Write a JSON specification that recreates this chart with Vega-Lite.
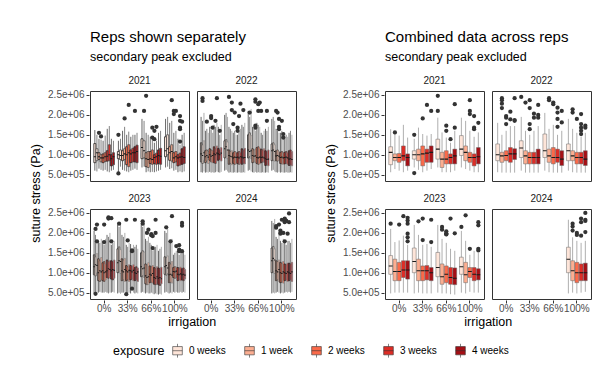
{
"$schema":"https://vega.github.io/schema/vega-lite/v6.json",
"padding":{"left":30,"top":30,"right":4,"bottom":4},
"spacing":28,
"config":{
 "font":"Liberation Sans",
 "view":{"stroke":"#333333","strokeWidth":1},
 "axis":{"domain":false,"grid":false,"tickColor":"#333333","tickSize":3,"labelColor":"#4D4D4D","labelFontSize":10,"labelOverlap":false,"titleFontSize":12.5,"titleFontWeight":"normal","titleColor":"#000000","labelPadding":2},
 "axisY":{"labelOverlap":false,"labelSeparation":0},
 "axisQuantitative":{"labelOverlap":false},
 "header":{"labelFontSize":10,"labelColor":"#1A1A1A","labelPadding":5},
 "title":{"fontSize":15,"fontWeight":"normal","anchor":"start","frame":"group","subtitleFontSize":12.5,"subtitleColor":"#000000","subtitlePadding":6,"offset":12},
 "legend":{"orient":"bottom","direction":"horizontal","titleOrient":"left","titleFontSize":12.5,"titleFontWeight":"normal","titleColor":"#000000","labelFontSize":10,"labelColor":"#000000","symbolType":"M-0.7,-0.6H0.7V0.6H-0.7Z M-0.7,0H0.7 M0,-0.6V-1 M0,0.6V1","symbolSize":190,"symbolStrokeColor":"#333333","symbolStrokeWidth":0.6,"columnPadding":16,"offset":14,"layout":{"bottom":{"anchor":"middle"}}}
},
"datasets":{
"L":[
{"y":2021,"i":"0%","e":"0 weeks","g":"0a","lo":6.0e5,"q1":8.0e5,"md":9.5e5,"q3":1.28e6,"hi":1.62e6},
{"y":2021,"i":"0%","e":"0 weeks","g":"0b","lo":5.8e5,"q1":8.5e5,"md":1.05e6,"q3":1.15e6,"hi":1.5e6},
{"y":2021,"i":"0%","e":"1 week","g":"1a","lo":6.5e5,"q1":8.8e5,"md":9.5e5,"q3":1.05e6,"hi":1.4e6},
{"y":2021,"i":"0%","e":"1 week","g":"1b","lo":6.2e5,"q1":8.2e5,"md":9.2e5,"q3":1.0e6,"hi":1.38e6},
{"y":2021,"i":"0%","e":"2 weeks","g":"2a","lo":6.0e5,"q1":8.0e5,"md":9.2e5,"q3":1.02e6,"hi":1.35e6},
{"y":2021,"i":"0%","e":"2 weeks","g":"2b","lo":6.2e5,"q1":8.3e5,"md":9.5e5,"q3":1.05e6,"hi":1.48e6},
{"y":2021,"i":"0%","e":"3 weeks","g":"3a","lo":5.8e5,"q1":8.4e5,"md":9.6e5,"q3":1.1e6,"hi":1.65e6},
{"y":2021,"i":"0%","e":"3 weeks","g":"3b","lo":5.6e5,"q1":8.5e5,"md":1.0e6,"q3":1.25e6,"hi":1.72e6},
{"y":2021,"i":"0%","e":"4 weeks","g":"4a","lo":6.0e5,"q1":7.2e5,"md":9.0e5,"q3":1.0e6,"hi":1.4e6},
{"y":2021,"i":"0%","e":"4 weeks","g":"4b","lo":6.2e5,"q1":7.5e5,"md":9.5e5,"q3":1.05e6,"hi":1.35e6},
{"y":2021,"i":"0%","e":"1 week","g":"1a","v":1.55e6},
{"y":2021,"i":"0%","e":"1 week","g":"1b","v":1.46e6},
{"y":2021,"i":"33%","e":"0 weeks","g":"0a","lo":5.6e5,"q1":9.0e5,"md":1.0e6,"q3":1.08e6,"hi":1.35e6},
{"y":2021,"i":"33%","e":"0 weeks","g":"0b","lo":7.0e5,"q1":8.8e5,"md":9.8e5,"q3":1.12e6,"hi":1.4e6},
{"y":2021,"i":"33%","e":"1 week","g":"1a","lo":6.2e5,"q1":8.5e5,"md":9.8e5,"q3":1.1e6,"hi":1.6e6},
{"y":2021,"i":"33%","e":"1 week","g":"1b","lo":6.0e5,"q1":8.8e5,"md":1.02e6,"q3":1.15e6,"hi":1.7e6},
{"y":2021,"i":"33%","e":"2 weeks","g":"2a","lo":5.8e5,"q1":7.5e5,"md":1.0e6,"q3":1.2e6,"hi":1.5e6},
{"y":2021,"i":"33%","e":"2 weeks","g":"2b","lo":5.6e5,"q1":7.0e5,"md":1.05e6,"q3":1.25e6,"hi":1.58e6},
{"y":2021,"i":"33%","e":"3 weeks","g":"3a","lo":6.0e5,"q1":8.0e5,"md":1.02e6,"q3":1.12e6,"hi":1.45e6},
{"y":2021,"i":"33%","e":"3 weeks","g":"3b","lo":6.2e5,"q1":8.2e5,"md":1.05e6,"q3":1.16e6,"hi":1.5e6},
{"y":2021,"i":"33%","e":"4 weeks","g":"4a","lo":6.5e5,"q1":8.2e5,"md":1.05e6,"q3":1.2e6,"hi":1.5e6},
{"y":2021,"i":"33%","e":"4 weeks","g":"4b","lo":6.2e5,"q1":8.0e5,"md":1.08e6,"q3":1.24e6,"hi":1.55e6},
{"y":2021,"i":"33%","e":"0 weeks","g":"0a","v":1.5e6},
{"y":2021,"i":"33%","e":"0 weeks","g":"0a","v":5.3e5},
{"y":2021,"i":"33%","e":"1 week","g":"1b","v":1.91e6},
{"y":2021,"i":"33%","e":"2 weeks","g":"2b","v":2.25e6},
{"y":2021,"i":"33%","e":"4 weeks","g":"4a","v":2.1e6},
{"y":2021,"i":"66%","e":"0 weeks","g":"0a","lo":6.8e5,"q1":9.0e5,"md":1.18e6,"q3":1.4e6,"hi":1.9e6},
{"y":2021,"i":"66%","e":"0 weeks","g":"0b","lo":7.0e5,"q1":9.2e5,"md":1.1e6,"q3":1.35e6,"hi":1.85e6},
{"y":2021,"i":"66%","e":"1 week","g":"1a","lo":5.6e5,"q1":7.0e5,"md":9.0e5,"q3":1.05e6,"hi":1.55e6},
{"y":2021,"i":"66%","e":"1 week","g":"1b","lo":5.8e5,"q1":6.8e5,"md":8.8e5,"q3":1.08e6,"hi":1.5e6},
{"y":2021,"i":"66%","e":"2 weeks","g":"2a","lo":5.6e5,"q1":7.8e5,"md":9.0e5,"q3":1.08e6,"hi":1.45e6},
{"y":2021,"i":"66%","e":"2 weeks","g":"2b","lo":5.7e5,"q1":7.6e5,"md":8.8e5,"q3":1.12e6,"hi":1.4e6},
{"y":2021,"i":"66%","e":"3 weeks","g":"3a","lo":5.6e5,"q1":7.8e5,"md":9.3e5,"q3":1.0e6,"hi":1.3e6},
{"y":2021,"i":"66%","e":"3 weeks","g":"3b","lo":5.8e5,"q1":7.6e5,"md":9.5e5,"q3":1.04e6,"hi":1.35e6},
{"y":2021,"i":"66%","e":"4 weeks","g":"4a","lo":6.0e5,"q1":7.8e5,"md":9.8e5,"q3":1.12e6,"hi":1.55e6},
{"y":2021,"i":"66%","e":"4 weeks","g":"4b","lo":6.2e5,"q1":7.6e5,"md":9.6e5,"q3":1.16e6,"hi":1.6e6},
{"y":2021,"i":"66%","e":"0 weeks","g":"0b","v":2.1e6},
{"y":2021,"i":"66%","e":"1 week","g":"1a","v":2.48e6},
{"y":2021,"i":"66%","e":"2 weeks","g":"2b","v":1.68e6},
{"y":2021,"i":"66%","e":"2 weeks","g":"2b","v":1.43e6},
{"y":2021,"i":"66%","e":"3 weeks","g":"3a","v":1.6e6},
{"y":2021,"i":"66%","e":"3 weeks","g":"3a","v":1.39e6},
{"y":2021,"i":"66%","e":"3 weeks","g":"3b","v":1.7e6},
{"y":2021,"i":"100%","e":"0 weeks","g":"0a","lo":6.8e5,"q1":9.5e5,"md":1.1e6,"q3":1.45e6,"hi":1.9e6},
{"y":2021,"i":"100%","e":"0 weeks","g":"0b","lo":7.0e5,"q1":1.0e6,"md":1.15e6,"q3":1.5e6,"hi":1.95e6},
{"y":2021,"i":"100%","e":"1 week","g":"1a","lo":6.4e5,"q1":8.6e5,"md":1.05e6,"q3":1.2e6,"hi":1.8e6},
{"y":2021,"i":"100%","e":"1 week","g":"1b","lo":6.6e5,"q1":8.4e5,"md":1.08e6,"q3":1.25e6,"hi":1.85e6},
{"y":2021,"i":"100%","e":"2 weeks","g":"2a","lo":6.0e5,"q1":8.0e5,"md":9.2e5,"q3":1.05e6,"hi":1.55e6},
{"y":2021,"i":"100%","e":"2 weeks","g":"2b","lo":6.2e5,"q1":8.2e5,"md":9.5e5,"q3":1.08e6,"hi":1.6e6},
{"y":2021,"i":"100%","e":"3 weeks","g":"3a","lo":5.6e5,"q1":7.2e5,"md":9.2e5,"q3":1.0e6,"hi":1.4e6},
{"y":2021,"i":"100%","e":"3 weeks","g":"3b","lo":5.8e5,"q1":7.4e5,"md":9.4e5,"q3":1.04e6,"hi":1.25e6},
{"y":2021,"i":"100%","e":"4 weeks","g":"4a","lo":5.6e5,"q1":7.6e5,"md":9.5e5,"q3":1.15e6,"hi":1.5e6},
{"y":2021,"i":"100%","e":"4 weeks","g":"4b","lo":5.8e5,"q1":7.8e5,"md":9.3e5,"q3":1.2e6,"hi":1.55e6},
{"y":2021,"i":"100%","e":"1 week","g":"1b","v":2.37e6},
{"y":2021,"i":"100%","e":"2 weeks","g":"2a","v":2.02e6},
{"y":2021,"i":"100%","e":"2 weeks","g":"2a","v":2.1e6},
{"y":2021,"i":"100%","e":"2 weeks","g":"2b","v":2.1e6},
{"y":2021,"i":"100%","e":"3 weeks","g":"3b","v":1.97e6},
{"y":2021,"i":"100%","e":"3 weeks","g":"3b","v":1.85e6},
{"y":2021,"i":"100%","e":"3 weeks","g":"3b","v":1.68e6},
{"y":2021,"i":"100%","e":"3 weeks","g":"3b","v":1.64e6},
{"y":2021,"i":"100%","e":"3 weeks","g":"3b","v":1.33e6},
{"y":2021,"i":"100%","e":"4 weeks","g":"4a","v":1.83e6},

{"y":2022,"i":"0%","e":"0 weeks","g":"0a","lo":5.6e5,"q1":8.2e5,"md":1.02e6,"q3":1.3e6,"hi":1.95e6},
{"y":2022,"i":"0%","e":"0 weeks","g":"0b","lo":5.5e5,"q1":7.8e5,"md":9.8e5,"q3":1.25e6,"hi":1.85e6},
{"y":2022,"i":"0%","e":"0 weeks","g":"0c","lo":5.8e5,"q1":8.6e5,"md":1.05e6,"q3":1.35e6,"hi":2.05e6},
{"y":2022,"i":"0%","e":"1 week","g":"1a","lo":5.5e5,"q1":8.0e5,"md":9.5e5,"q3":1.1e6,"hi":1.6e6},
{"y":2022,"i":"0%","e":"1 week","g":"1b","lo":5.6e5,"q1":8.4e5,"md":9.8e5,"q3":1.12e6,"hi":1.65e6},
{"y":2022,"i":"0%","e":"1 week","g":"1c","lo":5.5e5,"q1":7.8e5,"md":9.4e5,"q3":1.08e6,"hi":1.55e6},
{"y":2022,"i":"0%","e":"2 weeks","g":"2a","lo":5.7e5,"q1":8.6e5,"md":1.0e6,"q3":1.15e6,"hi":1.7e6},
{"y":2022,"i":"0%","e":"2 weeks","g":"2b","lo":5.5e5,"q1":8.2e5,"md":9.6e5,"q3":1.12e6,"hi":1.62e6},
{"y":2022,"i":"0%","e":"2 weeks","g":"2c","lo":5.6e5,"q1":8.0e5,"md":9.8e5,"q3":1.1e6,"hi":1.55e6},
{"y":2022,"i":"0%","e":"3 weeks","g":"3a","lo":5.5e5,"q1":8.0e5,"md":1.02e6,"q3":1.2e6,"hi":1.75e6},
{"y":2022,"i":"0%","e":"3 weeks","g":"3b","lo":5.6e5,"q1":7.8e5,"md":1.0e6,"q3":1.15e6,"hi":1.7e6},
{"y":2022,"i":"0%","e":"3 weeks","g":"3c","lo":5.8e5,"q1":8.4e5,"md":1.04e6,"q3":1.22e6,"hi":1.8e6},
{"y":2022,"i":"0%","e":"4 weeks","g":"4a","lo":5.6e5,"q1":8.6e5,"md":1.02e6,"q3":1.16e6,"hi":1.7e6},
{"y":2022,"i":"0%","e":"4 weeks","g":"4b","lo":5.5e5,"q1":8.8e5,"md":1.0e6,"q3":1.12e6,"hi":1.5e6},
{"y":2022,"i":"0%","e":"4 weeks","g":"4c","lo":5.7e5,"q1":8.4e5,"md":1.04e6,"q3":1.18e6,"hi":1.75e6},
{"y":2022,"i":"0%","e":"0 weeks","g":"0b","v":2.42e6},
{"y":2022,"i":"0%","e":"0 weeks","g":"0b","v":2.35e6},
{"y":2022,"i":"0%","e":"1 week","g":"1b","v":1.83e6},
{"y":2022,"i":"0%","e":"2 weeks","g":"2b","v":1.97e6},
{"y":2022,"i":"0%","e":"2 weeks","g":"2b","v":1.92e6},
{"y":2022,"i":"0%","e":"2 weeks","g":"2c","v":1.68e6},
{"y":2022,"i":"0%","e":"3 weeks","g":"3b","v":1.85e6},
{"y":2022,"i":"0%","e":"3 weeks","g":"3c","v":2.42e6},
{"y":2022,"i":"0%","e":"4 weeks","g":"4b","v":1.6e6},
{"y":2022,"i":"33%","e":"0 weeks","g":"0a","lo":6.0e5,"q1":9.2e5,"md":1.15e6,"q3":1.35e6,"hi":2.0e6},
{"y":2022,"i":"33%","e":"0 weeks","g":"0b","lo":6.2e5,"q1":9.5e5,"md":1.2e6,"q3":1.38e6,"hi":2.05e6},
{"y":2022,"i":"33%","e":"0 weeks","g":"0c","lo":5.8e5,"q1":9.0e5,"md":1.12e6,"q3":1.32e6,"hi":1.95e6},
{"y":2022,"i":"33%","e":"1 week","g":"1a","lo":5.5e5,"q1":7.6e5,"md":9.8e5,"q3":1.12e6,"hi":1.7e6},
{"y":2022,"i":"33%","e":"1 week","g":"1b","lo":5.6e5,"q1":7.8e5,"md":9.6e5,"q3":1.08e6,"hi":1.65e6},
{"y":2022,"i":"33%","e":"1 week","g":"1c","lo":5.5e5,"q1":7.5e5,"md":9.5e5,"q3":1.1e6,"hi":1.6e6},
{"y":2022,"i":"33%","e":"2 weeks","g":"2a","lo":5.5e5,"q1":7.8e5,"md":9.2e5,"q3":1.05e6,"hi":1.55e6},
{"y":2022,"i":"33%","e":"2 weeks","g":"2b","lo":5.6e5,"q1":7.6e5,"md":9.4e5,"q3":1.08e6,"hi":1.6e6},
{"y":2022,"i":"33%","e":"2 weeks","g":"2c","lo":5.5e5,"q1":7.7e5,"md":9.3e5,"q3":1.06e6,"hi":1.5e6},
{"y":2022,"i":"33%","e":"3 weeks","g":"3a","lo":5.5e5,"q1":7.8e5,"md":9.4e5,"q3":1.05e6,"hi":1.5e6},
{"y":2022,"i":"33%","e":"3 weeks","g":"3b","lo":5.6e5,"q1":7.6e5,"md":9.2e5,"q3":1.08e6,"hi":1.6e6},
{"y":2022,"i":"33%","e":"3 weeks","g":"3c","lo":5.5e5,"q1":7.7e5,"md":9.5e5,"q3":1.06e6,"hi":1.65e6},
{"y":2022,"i":"33%","e":"4 weeks","g":"4a","lo":5.5e5,"q1":7.6e5,"md":9.4e5,"q3":1.15e6,"hi":1.75e6},
{"y":2022,"i":"33%","e":"4 weeks","g":"4b","lo":5.6e5,"q1":7.8e5,"md":9.2e5,"q3":1.12e6,"hi":1.7e6},
{"y":2022,"i":"33%","e":"4 weeks","g":"4c","lo":5.5e5,"q1":7.7e5,"md":9.3e5,"q3":1.16e6,"hi":1.8e6},
{"y":2022,"i":"33%","e":"1 week","g":"1a","v":2.45e6},
{"y":2022,"i":"33%","e":"1 week","g":"1c","v":2.31e6},
{"y":2022,"i":"33%","e":"1 week","g":"1c","v":2.12e6},
{"y":2022,"i":"33%","e":"2 weeks","g":"2a","v":1.77e6},
{"y":2022,"i":"33%","e":"2 weeks","g":"2b","v":2.06e6},
{"y":2022,"i":"33%","e":"3 weeks","g":"3a","v":1.68e6},
{"y":2022,"i":"33%","e":"3 weeks","g":"3a","v":1.6e6},
{"y":2022,"i":"33%","e":"3 weeks","g":"3b","v":1.97e6},
{"y":2022,"i":"33%","e":"3 weeks","g":"3c","v":2.28e6},
{"y":2022,"i":"33%","e":"4 weeks","g":"4b","v":2.12e6},
{"y":2022,"i":"66%","e":"0 weeks","g":"0a","lo":6.0e5,"q1":9.2e5,"md":1.12e6,"q3":1.5e6,"hi":2.1e6},
{"y":2022,"i":"66%","e":"0 weeks","g":"0b","lo":6.2e5,"q1":9.5e5,"md":1.08e6,"q3":1.55e6,"hi":1.95e6},
{"y":2022,"i":"66%","e":"0 weeks","g":"0c","lo":5.8e5,"q1":9.0e5,"md":1.1e6,"q3":1.48e6,"hi":2.15e6},
{"y":2022,"i":"66%","e":"1 week","g":"1a","lo":5.6e5,"q1":8.0e5,"md":9.8e5,"q3":1.15e6,"hi":1.7e6},
{"y":2022,"i":"66%","e":"1 week","g":"1b","lo":5.5e5,"q1":8.2e5,"md":9.6e5,"q3":1.12e6,"hi":1.65e6},
{"y":2022,"i":"66%","e":"1 week","g":"1c","lo":5.7e5,"q1":8.1e5,"md":9.7e5,"q3":1.14e6,"hi":1.6e6},
{"y":2022,"i":"66%","e":"2 weeks","g":"2a","lo":5.5e5,"q1":7.8e5,"md":9.3e5,"q3":1.18e6,"hi":1.8e6},
{"y":2022,"i":"66%","e":"2 weeks","g":"2b","lo":5.6e5,"q1":7.6e5,"md":9.2e5,"q3":1.2e6,"hi":1.75e6},
{"y":2022,"i":"66%","e":"2 weeks","g":"2c","lo":5.5e5,"q1":7.7e5,"md":9.4e5,"q3":1.16e6,"hi":1.7e6},
{"y":2022,"i":"66%","e":"3 weeks","g":"3a","lo":5.5e5,"q1":8.0e5,"md":9.3e5,"q3":1.14e6,"hi":1.55e6},
{"y":2022,"i":"66%","e":"3 weeks","g":"3b","lo":5.6e5,"q1":8.2e5,"md":9.4e5,"q3":1.12e6,"hi":1.5e6},
{"y":2022,"i":"66%","e":"3 weeks","g":"3c","lo":5.5e5,"q1":8.1e5,"md":9.2e5,"q3":1.15e6,"hi":1.6e6},
{"y":2022,"i":"66%","e":"4 weeks","g":"4a","lo":5.5e5,"q1":7.3e5,"md":9.0e5,"q3":1.1e6,"hi":1.65e6},
{"y":2022,"i":"66%","e":"4 weeks","g":"4b","lo":5.6e5,"q1":7.4e5,"md":8.8e5,"q3":1.08e6,"hi":1.6e6},
{"y":2022,"i":"66%","e":"4 weeks","g":"4c","lo":5.5e5,"q1":7.2e5,"md":8.9e5,"q3":1.12e6,"hi":1.7e6},
{"y":2022,"i":"66%","e":"0 weeks","g":"0b","v":2.06e6},
{"y":2022,"i":"66%","e":"1 week","g":"1c","v":2.39e6},
{"y":2022,"i":"66%","e":"1 week","g":"1c","v":2.33e6},
{"y":2022,"i":"66%","e":"1 week","g":"1c","v":1.73e6},
{"y":2022,"i":"66%","e":"1 week","g":"1c","v":1.68e6},
{"y":2022,"i":"66%","e":"2 weeks","g":"2b","v":2.27e6},
{"y":2022,"i":"66%","e":"2 weeks","g":"2b","v":2.1e6},
{"y":2022,"i":"66%","e":"2 weeks","g":"2c","v":2.31e6},
{"y":2022,"i":"66%","e":"3 weeks","g":"3a","v":2.1e6},
{"y":2022,"i":"66%","e":"4 weeks","g":"4b","v":2.1e6},
{"y":2022,"i":"66%","e":"4 weeks","g":"4b","v":1.85e6},
{"y":2022,"i":"100%","e":"0 weeks","g":"0a","lo":6.0e5,"q1":8.5e5,"md":1.1e6,"q3":1.27e6,"hi":1.9e6},
{"y":2022,"i":"100%","e":"0 weeks","g":"0b","lo":6.2e5,"q1":8.6e5,"md":1.12e6,"q3":1.3e6,"hi":1.95e6},
{"y":2022,"i":"100%","e":"0 weeks","g":"0c","lo":5.8e5,"q1":8.4e5,"md":1.08e6,"q3":1.25e6,"hi":1.85e6},
{"y":2022,"i":"100%","e":"1 week","g":"1a","lo":5.6e5,"q1":8.5e5,"md":9.7e5,"q3":1.1e6,"hi":1.65e6},
{"y":2022,"i":"100%","e":"1 week","g":"1b","lo":5.5e5,"q1":8.4e5,"md":9.8e5,"q3":1.12e6,"hi":1.6e6},
{"y":2022,"i":"100%","e":"1 week","g":"1c","lo":5.7e5,"q1":8.6e5,"md":9.6e5,"q3":1.08e6,"hi":1.55e6},
{"y":2022,"i":"100%","e":"2 weeks","g":"2a","lo":5.5e5,"q1":7.8e5,"md":9.3e5,"q3":1.06e6,"hi":1.55e6},
{"y":2022,"i":"100%","e":"2 weeks","g":"2b","lo":5.6e5,"q1":7.7e5,"md":9.4e5,"q3":1.08e6,"hi":1.6e6},
{"y":2022,"i":"100%","e":"2 weeks","g":"2c","lo":5.5e5,"q1":7.6e5,"md":9.2e5,"q3":1.05e6,"hi":1.4e6},
{"y":2022,"i":"100%","e":"3 weeks","g":"3a","lo":5.5e5,"q1":7.7e5,"md":9.3e5,"q3":1.06e6,"hi":1.45e6},
{"y":2022,"i":"100%","e":"3 weeks","g":"3b","lo":5.6e5,"q1":7.8e5,"md":9.4e5,"q3":1.08e6,"hi":1.5e6},
{"y":2022,"i":"100%","e":"3 weeks","g":"3c","lo":5.5e5,"q1":7.6e5,"md":9.2e5,"q3":1.05e6,"hi":1.45e6},
{"y":2022,"i":"100%","e":"4 weeks","g":"4a","lo":5.5e5,"q1":7.3e5,"md":8.9e5,"q3":1.1e6,"hi":1.55e6},
{"y":2022,"i":"100%","e":"4 weeks","g":"4b","lo":5.6e5,"q1":7.4e5,"md":9.0e5,"q3":1.12e6,"hi":1.6e6},
{"y":2022,"i":"100%","e":"4 weeks","g":"4c","lo":5.5e5,"q1":7.2e5,"md":8.8e5,"q3":1.08e6,"hi":1.5e6},
{"y":2022,"i":"100%","e":"1 week","g":"1a","v":2.1e6},
{"y":2022,"i":"100%","e":"1 week","g":"1b","v":2.06e6},
{"y":2022,"i":"100%","e":"1 week","g":"1c","v":1.9e6},
{"y":2022,"i":"100%","e":"1 week","g":"1c","v":1.7e6},
{"y":2022,"i":"100%","e":"1 week","g":"1c","v":1.64e6},
{"y":2022,"i":"100%","e":"2 weeks","g":"2b","v":1.85e6},
{"y":2022,"i":"100%","e":"2 weeks","g":"2c","v":1.52e6},
{"y":2022,"i":"100%","e":"2 weeks","g":"2c","v":1.43e6},

{"y":2023,"i":"0%","e":"0 weeks","g":"0a","lo":4.8e5,"q1":9.5e5,"md":1.15e6,"q3":1.45e6,"hi":2.05e6},
{"y":2023,"i":"0%","e":"0 weeks","g":"0b","lo":5.0e5,"q1":9.2e5,"md":1.2e6,"q3":1.4e6,"hi":1.95e6},
{"y":2023,"i":"0%","e":"0 weeks","g":"0c","lo":5.0e5,"q1":1.0e6,"md":1.18e6,"q3":1.48e6,"hi":1.75e6},
{"y":2023,"i":"0%","e":"1 week","g":"1a","lo":5.0e5,"q1":8.0e5,"md":1.0e6,"q3":1.35e6,"hi":1.8e6},
{"y":2023,"i":"0%","e":"1 week","g":"1b","lo":5.2e5,"q1":7.8e5,"md":1.05e6,"q3":1.3e6,"hi":1.75e6},
{"y":2023,"i":"0%","e":"1 week","g":"1c","lo":5.0e5,"q1":8.2e5,"md":1.02e6,"q3":1.38e6,"hi":1.85e6},
{"y":2023,"i":"0%","e":"2 weeks","g":"2a","lo":5.0e5,"q1":8.0e5,"md":1.05e6,"q3":1.25e6,"hi":1.8e6},
{"y":2023,"i":"0%","e":"2 weeks","g":"2b","lo":5.0e5,"q1":7.8e5,"md":1.0e6,"q3":1.28e6,"hi":1.7e6},
{"y":2023,"i":"0%","e":"2 weeks","g":"2c","lo":5.2e5,"q1":8.2e5,"md":1.02e6,"q3":1.22e6,"hi":1.85e6},
{"y":2023,"i":"0%","e":"3 weeks","g":"3a","lo":5.0e5,"q1":8.8e5,"md":1.05e6,"q3":1.32e6,"hi":1.95e6},
{"y":2023,"i":"0%","e":"3 weeks","g":"3b","lo":4.8e5,"q1":8.6e5,"md":1.1e6,"q3":1.28e6,"hi":1.9e6},
{"y":2023,"i":"0%","e":"3 weeks","g":"3c","lo":5.0e5,"q1":9.0e5,"md":1.08e6,"q3":1.3e6,"hi":2.0e6},
{"y":2023,"i":"0%","e":"4 weeks","g":"4a","lo":5.0e5,"q1":8.4e5,"md":1.05e6,"q3":1.3e6,"hi":1.7e6},
{"y":2023,"i":"0%","e":"4 weeks","g":"4b","lo":5.2e5,"q1":8.2e5,"md":1.08e6,"q3":1.28e6,"hi":1.75e6},
{"y":2023,"i":"0%","e":"4 weeks","g":"4c","lo":5.0e5,"q1":8.6e5,"md":1.06e6,"q3":1.32e6,"hi":1.8e6},
{"y":2023,"i":"0%","e":"0 weeks","g":"0b","v":2.1e6},
{"y":2023,"i":"0%","e":"0 weeks","g":"0b","v":4.7e5},
{"y":2023,"i":"0%","e":"0 weeks","g":"0c","v":2.21e6},
{"y":2023,"i":"0%","e":"0 weeks","g":"0c","v":1.79e6},
{"y":2023,"i":"0%","e":"2 weeks","g":"2b","v":2.21e6},
{"y":2023,"i":"0%","e":"2 weeks","g":"2b","v":1.77e6},
{"y":2023,"i":"0%","e":"3 weeks","g":"3b","v":2.39e6},
{"y":2023,"i":"0%","e":"3 weeks","g":"3b","v":2.36e6},
{"y":2023,"i":"0%","e":"4 weeks","g":"4a","v":2.37e6},
{"y":2023,"i":"0%","e":"4 weeks","g":"4a","v":1.79e6},
{"y":2023,"i":"33%","e":"0 weeks","g":"0a","lo":4.8e5,"q1":1.0e6,"md":1.25e6,"q3":1.6e6,"hi":2.2e6},
{"y":2023,"i":"33%","e":"0 weeks","g":"0b","lo":5.0e5,"q1":1.02e6,"md":1.3e6,"q3":1.65e6,"hi":2.15e6},
{"y":2023,"i":"33%","e":"0 weeks","g":"0c","lo":4.7e5,"q1":9.8e5,"md":1.28e6,"q3":1.58e6,"hi":2.25e6},
{"y":2023,"i":"33%","e":"1 week","g":"1a","lo":5.0e5,"q1":8.0e5,"md":1.05e6,"q3":1.35e6,"hi":1.95e6},
{"y":2023,"i":"33%","e":"1 week","g":"1b","lo":5.0e5,"q1":8.2e5,"md":1.02e6,"q3":1.32e6,"hi":1.9e6},
{"y":2023,"i":"33%","e":"1 week","g":"1c","lo":5.2e5,"q1":7.8e5,"md":1.08e6,"q3":1.36e6,"hi":2.0e6},
{"y":2023,"i":"33%","e":"2 weeks","g":"2a","lo":5.0e5,"q1":8.0e5,"md":1.05e6,"q3":1.18e6,"hi":1.7e6},
{"y":2023,"i":"33%","e":"2 weeks","g":"2b","lo":4.8e5,"q1":8.2e5,"md":1.02e6,"q3":1.15e6,"hi":1.65e6},
{"y":2023,"i":"33%","e":"2 weeks","g":"2c","lo":5.0e5,"q1":7.8e5,"md":1.06e6,"q3":1.2e6,"hi":1.75e6},
{"y":2023,"i":"33%","e":"3 weeks","g":"3a","lo":4.8e5,"q1":8.2e5,"md":1.05e6,"q3":1.18e6,"hi":1.72e6},
{"y":2023,"i":"33%","e":"3 weeks","g":"3b","lo":6.2e5,"q1":8.4e5,"md":1.02e6,"q3":1.16e6,"hi":1.5e6},
{"y":2023,"i":"33%","e":"3 weeks","g":"3c","lo":5.0e5,"q1":8.0e5,"md":1.06e6,"q3":1.2e6,"hi":1.7e6},
{"y":2023,"i":"33%","e":"4 weeks","g":"4a","lo":4.8e5,"q1":8.0e5,"md":1.0e6,"q3":1.13e6,"hi":1.65e6},
{"y":2023,"i":"33%","e":"4 weeks","g":"4b","lo":5.0e5,"q1":8.2e5,"md":9.8e5,"q3":1.15e6,"hi":1.7e6},
{"y":2023,"i":"33%","e":"4 weeks","g":"4c","lo":4.8e5,"q1":7.8e5,"md":1.02e6,"q3":1.12e6,"hi":1.6e6},
{"y":2023,"i":"33%","e":"0 weeks","g":"0b","v":2.23e6},
{"y":2023,"i":"33%","e":"2 weeks","g":"2a","v":2.33e6},
{"y":2023,"i":"33%","e":"2 weeks","g":"2a","v":4.6e5},
{"y":2023,"i":"33%","e":"2 weeks","g":"2b","v":1.81e6},
{"y":2023,"i":"33%","e":"3 weeks","g":"3b","v":1.56e6},
{"y":2023,"i":"33%","e":"3 weeks","g":"3b","v":1.54e6},
{"y":2023,"i":"33%","e":"3 weeks","g":"3b","v":6.0e5},
{"y":2023,"i":"33%","e":"4 weeks","g":"4a","v":2.33e6},
{"y":2023,"i":"66%","e":"0 weeks","g":"0a","lo":5.0e5,"q1":9.0e5,"md":1.15e6,"q3":1.5e6,"hi":2.2e6},
{"y":2023,"i":"66%","e":"0 weeks","g":"0b","lo":5.2e5,"q1":9.2e5,"md":1.1e6,"q3":1.55e6,"hi":2.15e6},
{"y":2023,"i":"66%","e":"0 weeks","g":"0c","lo":5.0e5,"q1":8.8e5,"md":1.12e6,"q3":1.52e6,"hi":2.25e6},
{"y":2023,"i":"66%","e":"1 week","g":"1a","lo":4.8e5,"q1":7.2e5,"md":9.2e5,"q3":1.22e6,"hi":1.85e6},
{"y":2023,"i":"66%","e":"1 week","g":"1b","lo":5.0e5,"q1":7.0e5,"md":8.8e5,"q3":1.2e6,"hi":1.8e6},
{"y":2023,"i":"66%","e":"1 week","g":"1c","lo":4.8e5,"q1":7.1e5,"md":9.0e5,"q3":1.25e6,"hi":1.9e6},
{"y":2023,"i":"66%","e":"2 weeks","g":"2a","lo":4.8e5,"q1":7.5e5,"md":9.6e5,"q3":1.17e6,"hi":1.75e6},
{"y":2023,"i":"66%","e":"2 weeks","g":"2b","lo":5.0e5,"q1":7.6e5,"md":9.4e5,"q3":1.15e6,"hi":1.7e6},
{"y":2023,"i":"66%","e":"2 weeks","g":"2c","lo":4.8e5,"q1":7.4e5,"md":9.8e5,"q3":1.18e6,"hi":1.55e6},
{"y":2023,"i":"66%","e":"3 weeks","g":"3a","lo":4.6e5,"q1":7.1e5,"md":8.8e5,"q3":1.13e6,"hi":1.6e6},
{"y":2023,"i":"66%","e":"3 weeks","g":"3b","lo":4.8e5,"q1":7.0e5,"md":8.6e5,"q3":1.1e6,"hi":1.65e6},
{"y":2023,"i":"66%","e":"3 weeks","g":"3c","lo":4.6e5,"q1":7.2e5,"md":9.0e5,"q3":1.15e6,"hi":1.7e6},
{"y":2023,"i":"66%","e":"4 weeks","g":"4a","lo":4.5e5,"q1":7.0e5,"md":8.6e5,"q3":1.12e6,"hi":1.55e6},
{"y":2023,"i":"66%","e":"4 weeks","g":"4b","lo":4.7e5,"q1":6.8e5,"md":8.8e5,"q3":1.1e6,"hi":1.6e6},
{"y":2023,"i":"66%","e":"4 weeks","g":"4c","lo":4.5e5,"q1":7.2e5,"md":8.5e5,"q3":1.14e6,"hi":1.65e6},
{"y":2023,"i":"66%","e":"0 weeks","g":"0b","v":2.29e6},
{"y":2023,"i":"66%","e":"0 weeks","g":"0b","v":2.23e6},
{"y":2023,"i":"66%","e":"1 week","g":"1b","v":2.0e6},
{"y":2023,"i":"66%","e":"1 week","g":"1c","v":2.08e6},
{"y":2023,"i":"66%","e":"2 weeks","g":"2b","v":1.97e6},
{"y":2023,"i":"66%","e":"2 weeks","g":"2b","v":1.94e6},
{"y":2023,"i":"66%","e":"2 weeks","g":"2c","v":1.62e6},
{"y":2023,"i":"66%","e":"2 weeks","g":"2c","v":1.92e6},
{"y":2023,"i":"66%","e":"3 weeks","g":"3b","v":2.33e6},
{"y":2023,"i":"66%","e":"3 weeks","g":"3b","v":2.0e6},
{"y":2023,"i":"100%","e":"0 weeks","g":"0a","lo":5.0e5,"q1":9.6e5,"md":1.15e6,"q3":1.4e6,"hi":2.05e6},
{"y":2023,"i":"100%","e":"0 weeks","g":"0b","lo":5.2e5,"q1":9.4e5,"md":1.18e6,"q3":1.38e6,"hi":2.0e6},
{"y":2023,"i":"100%","e":"0 weeks","g":"0c","lo":5.0e5,"q1":9.8e5,"md":1.12e6,"q3":1.42e6,"hi":2.1e6},
{"y":2023,"i":"100%","e":"1 week","g":"1a","lo":4.8e5,"q1":7.5e5,"md":9.5e5,"q3":1.26e6,"hi":1.8e6},
{"y":2023,"i":"100%","e":"1 week","g":"1b","lo":5.0e5,"q1":7.6e5,"md":9.6e5,"q3":1.22e6,"hi":1.75e6},
{"y":2023,"i":"100%","e":"1 week","g":"1c","lo":4.8e5,"q1":7.4e5,"md":9.4e5,"q3":1.28e6,"hi":1.85e6},
{"y":2023,"i":"100%","e":"2 weeks","g":"2a","lo":5.2e5,"q1":8.8e5,"md":1.03e6,"q3":1.13e6,"hi":1.45e6},
{"y":2023,"i":"100%","e":"2 weeks","g":"2b","lo":5.0e5,"q1":8.6e5,"md":1.02e6,"q3":1.15e6,"hi":1.5e6},
{"y":2023,"i":"100%","e":"2 weeks","g":"2c","lo":5.2e5,"q1":8.8e5,"md":1.04e6,"q3":1.14e6,"hi":1.55e6},
{"y":2023,"i":"100%","e":"3 weeks","g":"3a","lo":5.0e5,"q1":8.0e5,"md":9.6e5,"q3":1.13e6,"hi":1.55e6},
{"y":2023,"i":"100%","e":"3 weeks","g":"3b","lo":5.0e5,"q1":8.2e5,"md":9.5e5,"q3":1.12e6,"hi":1.45e6},
{"y":2023,"i":"100%","e":"3 weeks","g":"3c","lo":5.2e5,"q1":8.0e5,"md":9.7e5,"q3":1.14e6,"hi":1.6e6},
{"y":2023,"i":"100%","e":"4 weeks","g":"4a","lo":5.0e5,"q1":8.2e5,"md":9.5e5,"q3":1.1e6,"hi":1.5e6},
{"y":2023,"i":"100%","e":"4 weeks","g":"4b","lo":5.2e5,"q1":8.0e5,"md":9.6e5,"q3":1.12e6,"hi":1.55e6},
{"y":2023,"i":"100%","e":"4 weeks","g":"4c","lo":5.0e5,"q1":8.4e5,"md":9.4e5,"q3":1.08e6,"hi":1.45e6},
{"y":2023,"i":"100%","e":"0 weeks","g":"0b","v":2.14e6},
{"y":2023,"i":"100%","e":"1 week","g":"1b","v":1.79e6},
{"y":2023,"i":"100%","e":"1 week","g":"1c","v":2.42e6},
{"y":2023,"i":"100%","e":"2 weeks","g":"2c","v":1.67e6},
{"y":2023,"i":"100%","e":"3 weeks","g":"3b","v":1.69e6},
{"y":2023,"i":"100%","e":"3 weeks","g":"3b","v":1.58e6},
{"y":2023,"i":"100%","e":"3 weeks","g":"3b","v":1.54e6},
{"y":2023,"i":"100%","e":"4 weeks","g":"4a","v":2.25e6},
{"y":2023,"i":"100%","e":"4 weeks","g":"4a","v":2.18e6},
{"y":2023,"i":"100%","e":"4 weeks","g":"4a","v":1.54e6},

{"y":2024,"i":"100%","e":"0 weeks","g":"0a","lo":4.8e5,"q1":1.0e6,"md":1.3e6,"q3":1.62e6,"hi":2.3e6},
{"y":2024,"i":"100%","e":"0 weeks","g":"0b","lo":5.0e5,"q1":1.02e6,"md":1.36e6,"q3":1.66e6,"hi":2.25e6},
{"y":2024,"i":"100%","e":"0 weeks","g":"0c","lo":4.8e5,"q1":9.8e5,"md":1.32e6,"q3":1.6e6,"hi":2.35e6},
{"y":2024,"i":"100%","e":"1 week","g":"1a","lo":5.0e5,"q1":8.0e5,"md":1.05e6,"q3":1.3e6,"hi":1.9e6},
{"y":2024,"i":"100%","e":"1 week","g":"1b","lo":5.2e5,"q1":8.2e5,"md":1.02e6,"q3":1.28e6,"hi":1.85e6},
{"y":2024,"i":"100%","e":"1 week","g":"1c","lo":5.0e5,"q1":7.8e5,"md":1.08e6,"q3":1.32e6,"hi":1.95e6},
{"y":2024,"i":"100%","e":"2 weeks","g":"2a","lo":4.8e5,"q1":7.5e5,"md":1.0e6,"q3":1.26e6,"hi":1.8e6},
{"y":2024,"i":"100%","e":"2 weeks","g":"2b","lo":5.0e5,"q1":7.6e5,"md":9.8e5,"q3":1.24e6,"hi":1.75e6},
{"y":2024,"i":"100%","e":"2 weeks","g":"2c","lo":4.8e5,"q1":7.4e5,"md":1.02e6,"q3":1.28e6,"hi":1.85e6},
{"y":2024,"i":"100%","e":"3 weeks","g":"3a","lo":5.0e5,"q1":8.0e5,"md":1.0e6,"q3":1.22e6,"hi":1.75e6},
{"y":2024,"i":"100%","e":"3 weeks","g":"3b","lo":5.2e5,"q1":8.2e5,"md":9.8e5,"q3":1.2e6,"hi":1.7e6},
{"y":2024,"i":"100%","e":"3 weeks","g":"3c","lo":5.0e5,"q1":7.8e5,"md":1.02e6,"q3":1.24e6,"hi":1.8e6},
{"y":2024,"i":"100%","e":"4 weeks","g":"4a","lo":5.2e5,"q1":8.0e5,"md":1.0e6,"q3":1.24e6,"hi":1.8e6},
{"y":2024,"i":"100%","e":"4 weeks","g":"4b","lo":5.0e5,"q1":8.2e5,"md":9.8e5,"q3":1.22e6,"hi":1.75e6},
{"y":2024,"i":"100%","e":"4 weeks","g":"4c","lo":5.2e5,"q1":7.8e5,"md":1.02e6,"q3":1.26e6,"hi":1.85e6},
{"y":2024,"i":"100%","e":"1 week","g":"1a","v":2.17e6},
{"y":2024,"i":"100%","e":"1 week","g":"1a","v":2.13e6},
{"y":2024,"i":"100%","e":"1 week","g":"1c","v":2.21e6},
{"y":2024,"i":"100%","e":"2 weeks","g":"2a","v":2.06e6},
{"y":2024,"i":"100%","e":"2 weeks","g":"2a","v":2.0e6},
{"y":2024,"i":"100%","e":"2 weeks","g":"2a","v":1.98e6},
{"y":2024,"i":"100%","e":"2 weeks","g":"2b","v":2.33e6},
{"y":2024,"i":"100%","e":"2 weeks","g":"2c","v":2.0e6},
{"y":2024,"i":"100%","e":"3 weeks","g":"3a","v":2.36e6},
{"y":2024,"i":"100%","e":"3 weeks","g":"3a","v":2.29e6},
{"y":2024,"i":"100%","e":"3 weeks","g":"3a","v":2.27e6},
{"y":2024,"i":"100%","e":"3 weeks","g":"3a","v":1.79e6},
{"y":2024,"i":"100%","e":"3 weeks","g":"3b","v":2.31e6},
{"y":2024,"i":"100%","e":"3 weeks","g":"3c","v":1.98e6},
{"y":2024,"i":"100%","e":"4 weeks","g":"4a","v":2.49e6},
{"y":2024,"i":"100%","e":"4 weeks","g":"4a","v":2.27e6}
],
"R":[
{"y":2021,"i":"0%","e":"0 weeks","lo":5.6e5,"q1":7.5e5,"md":1.06e6,"q3":1.2e6,"hi":1.64e6},
{"y":2021,"i":"0%","e":"1 week","lo":6.4e5,"q1":8.5e5,"md":9.3e5,"q3":1.02e6,"hi":1.52e6},
{"y":2021,"i":"0%","e":"2 weeks","lo":6.0e5,"q1":8.1e5,"md":9.3e5,"q3":1.03e6,"hi":1.48e6},
{"y":2021,"i":"0%","e":"3 weeks","lo":5.6e5,"q1":8.5e5,"md":9.7e5,"q3":1.22e6,"hi":1.75e6},
{"y":2021,"i":"0%","e":"4 weeks","lo":6.0e5,"q1":7.2e5,"md":9.3e5,"q3":1.02e6,"hi":1.43e6},
{"y":2021,"i":"0%","e":"1 week","v":1.56e6},
{"y":2021,"i":"33%","e":"0 weeks","lo":6.8e5,"q1":8.9e5,"md":1.0e6,"q3":1.1e6,"hi":1.4e6},
{"y":2021,"i":"33%","e":"1 week","lo":6.2e5,"q1":8.5e5,"md":1.0e6,"q3":1.14e6,"hi":1.68e6},
{"y":2021,"i":"33%","e":"2 weeks","lo":5.6e5,"q1":7.2e5,"md":1.02e6,"q3":1.22e6,"hi":1.52e6},
{"y":2021,"i":"33%","e":"3 weeks","lo":6.0e5,"q1":8.1e5,"md":1.04e6,"q3":1.14e6,"hi":1.48e6},
{"y":2021,"i":"33%","e":"4 weeks","lo":6.4e5,"q1":8.1e5,"md":1.06e6,"q3":1.22e6,"hi":1.52e6},
{"y":2021,"i":"33%","e":"0 weeks","v":1.5e6},
{"y":2021,"i":"33%","e":"0 weeks","v":5.4e5},
{"y":2021,"i":"33%","e":"2 weeks","v":1.91e6},
{"y":2021,"i":"33%","e":"3 weeks","v":2.25e6},
{"y":2021,"i":"33%","e":"4 weeks","v":2.1e6},
{"y":2021,"i":"66%","e":"0 weeks","lo":6.8e5,"q1":8.9e5,"md":1.14e6,"q3":1.39e6,"hi":1.93e6},
{"y":2021,"i":"66%","e":"1 week","lo":5.6e5,"q1":6.8e5,"md":8.9e5,"q3":1.06e6,"hi":1.56e6},
{"y":2021,"i":"66%","e":"2 weeks","lo":5.6e5,"q1":7.7e5,"md":8.9e5,"q3":1.1e6,"hi":1.43e6},
{"y":2021,"i":"66%","e":"3 weeks","lo":5.6e5,"q1":7.7e5,"md":9.3e5,"q3":1.02e6,"hi":1.3e6},
{"y":2021,"i":"66%","e":"4 weeks","lo":6.0e5,"q1":7.7e5,"md":9.7e5,"q3":1.14e6,"hi":1.6e6},
{"y":2021,"i":"66%","e":"0 weeks","v":2.48e6},
{"y":2021,"i":"66%","e":"0 weeks","v":2.1e6},
{"y":2021,"i":"66%","e":"2 weeks","v":1.73e6},
{"y":2021,"i":"66%","e":"2 weeks","v":1.6e6},
{"y":2021,"i":"66%","e":"3 weeks","v":1.39e6},
{"y":2021,"i":"66%","e":"4 weeks","v":1.68e6},
{"y":2021,"i":"66%","e":"4 weeks","v":2.27e6},
{"y":2021,"i":"100%","e":"0 weeks","lo":6.8e5,"q1":9.8e5,"md":1.14e6,"q3":1.48e6,"hi":1.93e6},
{"y":2021,"i":"100%","e":"1 week","lo":6.4e5,"q1":8.5e5,"md":1.06e6,"q3":1.22e6,"hi":1.85e6},
{"y":2021,"i":"100%","e":"2 weeks","lo":6.0e5,"q1":8.1e5,"md":9.3e5,"q3":1.06e6,"hi":1.6e6},
{"y":2021,"i":"100%","e":"3 weeks","lo":5.6e5,"q1":7.2e5,"md":9.3e5,"q3":1.02e6,"hi":1.45e6},
{"y":2021,"i":"100%","e":"4 weeks","lo":5.6e5,"q1":7.7e5,"md":9.5e5,"q3":1.18e6,"hi":1.56e6},
{"y":2021,"i":"100%","e":"2 weeks","v":2.37e6},
{"y":2021,"i":"100%","e":"2 weeks","v":2.1e6},
{"y":2021,"i":"100%","e":"2 weeks","v":2.02e6},
{"y":2021,"i":"100%","e":"3 weeks","v":1.97e6},
{"y":2021,"i":"100%","e":"3 weeks","v":1.68e6},
{"y":2021,"i":"100%","e":"3 weeks","v":1.64e6},
{"y":2021,"i":"100%","e":"4 weeks","v":1.8e6},
{"y":2022,"i":"0%","e":"0 weeks","lo":5.6e5,"q1":8.5e5,"md":1.0e6,"q3":1.27e6,"hi":1.8e6},
{"y":2022,"i":"0%","e":"1 week","lo":5.5e5,"q1":8.1e5,"md":9.7e5,"q3":1.06e6,"hi":1.5e6},
{"y":2022,"i":"0%","e":"2 weeks","lo":5.5e5,"q1":8.5e5,"md":9.8e5,"q3":1.1e6,"hi":1.6e6},
{"y":2022,"i":"0%","e":"3 weeks","lo":5.5e5,"q1":8.1e5,"md":1.02e6,"q3":1.18e6,"hi":1.72e6},
{"y":2022,"i":"0%","e":"4 weeks","lo":5.5e5,"q1":8.8e5,"md":1.02e6,"q3":1.15e6,"hi":1.72e6},
{"y":2022,"i":"0%","e":"1 week","v":2.42e6},
{"y":2022,"i":"0%","e":"1 week","v":2.37e6},
{"y":2022,"i":"0%","e":"1 week","v":2.28e6},
{"y":2022,"i":"0%","e":"1 week","v":2.17e6},
{"y":2022,"i":"0%","e":"2 weeks","v":1.97e6},
{"y":2022,"i":"0%","e":"2 weeks","v":1.93e6},
{"y":2022,"i":"0%","e":"2 weeks","v":1.77e6},
{"y":2022,"i":"0%","e":"3 weeks","v":1.89e6},
{"y":2022,"i":"0%","e":"3 weeks","v":2.08e6},
{"y":2022,"i":"0%","e":"4 weeks","v":1.87e6},
{"y":2022,"i":"0%","e":"4 weeks","v":1.85e6},
{"y":2022,"i":"0%","e":"4 weeks","v":2.42e6},
{"y":2022,"i":"33%","e":"0 weeks","lo":6.0e5,"q1":9.3e5,"md":1.17e6,"q3":1.35e6,"hi":1.95e6},
{"y":2022,"i":"33%","e":"1 week","lo":5.5e5,"q1":7.7e5,"md":9.7e5,"q3":1.1e6,"hi":1.6e6},
{"y":2022,"i":"33%","e":"2 weeks","lo":5.5e5,"q1":7.7e5,"md":9.3e5,"q3":1.06e6,"hi":1.5e6},
{"y":2022,"i":"33%","e":"3 weeks","lo":5.5e5,"q1":7.7e5,"md":9.3e5,"q3":1.06e6,"hi":1.6e6},
{"y":2022,"i":"33%","e":"4 weeks","lo":5.5e5,"q1":7.7e5,"md":9.3e5,"q3":1.14e6,"hi":1.72e6},
{"y":2022,"i":"33%","e":"0 weeks","v":2.45e6},
{"y":2022,"i":"33%","e":"1 week","v":2.31e6},
{"y":2022,"i":"33%","e":"2 weeks","v":2.37e6},
{"y":2022,"i":"33%","e":"2 weeks","v":2.17e6},
{"y":2022,"i":"33%","e":"2 weeks","v":1.77e6},
{"y":2022,"i":"33%","e":"2 weeks","v":1.64e6},
{"y":2022,"i":"33%","e":"3 weeks","v":2.03e6},
{"y":2022,"i":"33%","e":"3 weeks","v":1.93e6},
{"y":2022,"i":"33%","e":"4 weeks","v":2.25e6},
{"y":2022,"i":"33%","e":"4 weeks","v":2.0e6},
{"y":2022,"i":"33%","e":"4 weeks","v":1.93e6},
{"y":2022,"i":"66%","e":"0 weeks","lo":6.0e5,"q1":9.3e5,"md":1.1e6,"q3":1.52e6,"hi":2.05e6},
{"y":2022,"i":"66%","e":"1 week","lo":5.6e5,"q1":8.1e5,"md":9.7e5,"q3":1.14e6,"hi":1.65e6},
{"y":2022,"i":"66%","e":"2 weeks","lo":5.5e5,"q1":7.7e5,"md":9.3e5,"q3":1.18e6,"hi":1.75e6},
{"y":2022,"i":"66%","e":"3 weeks","lo":5.5e5,"q1":8.1e5,"md":9.3e5,"q3":1.14e6,"hi":1.5e6},
{"y":2022,"i":"66%","e":"4 weeks","lo":5.5e5,"q1":7.3e5,"md":8.9e5,"q3":1.1e6,"hi":1.6e6},
{"y":2022,"i":"66%","e":"1 week","v":2.42e6},
{"y":2022,"i":"66%","e":"1 week","v":2.37e6},
{"y":2022,"i":"66%","e":"2 weeks","v":2.31e6},
{"y":2022,"i":"66%","e":"2 weeks","v":2.27e6},
{"y":2022,"i":"66%","e":"3 weeks","v":2.18e6},
{"y":2022,"i":"66%","e":"3 weeks","v":2.06e6},
{"y":2022,"i":"66%","e":"3 weeks","v":1.9e6},
{"y":2022,"i":"66%","e":"3 weeks","v":1.7e6},
{"y":2022,"i":"66%","e":"4 weeks","v":2.1e6},
{"y":2022,"i":"66%","e":"4 weeks","v":1.81e6},
{"y":2022,"i":"100%","e":"0 weeks","lo":6.0e5,"q1":8.5e5,"md":1.1e6,"q3":1.27e6,"hi":1.9e6},
{"y":2022,"i":"100%","e":"1 week","lo":5.6e5,"q1":8.5e5,"md":9.7e5,"q3":1.1e6,"hi":1.65e6},
{"y":2022,"i":"100%","e":"2 weeks","lo":5.5e5,"q1":7.7e5,"md":9.3e5,"q3":1.06e6,"hi":1.55e6},
{"y":2022,"i":"100%","e":"3 weeks","lo":5.5e5,"q1":7.7e5,"md":9.3e5,"q3":1.06e6,"hi":1.45e6},
{"y":2022,"i":"100%","e":"4 weeks","lo":5.5e5,"q1":7.3e5,"md":8.9e5,"q3":1.1e6,"hi":1.55e6},
{"y":2022,"i":"100%","e":"1 week","v":2.14e6},
{"y":2022,"i":"100%","e":"1 week","v":2.06e6},
{"y":2022,"i":"100%","e":"2 weeks","v":1.9e6},
{"y":2022,"i":"100%","e":"3 weeks","v":2.02e6},
{"y":2022,"i":"100%","e":"3 weeks","v":1.77e6},
{"y":2022,"i":"100%","e":"3 weeks","v":1.68e6},
{"y":2022,"i":"100%","e":"3 weeks","v":1.6e6},
{"y":2022,"i":"100%","e":"3 weeks","v":1.52e6},
{"y":2022,"i":"100%","e":"4 weeks","v":1.73e6},
{"y":2022,"i":"100%","e":"4 weeks","v":1.68e6},
{"y":2023,"i":"0%","e":"0 weeks","lo":4.8e5,"q1":9.6e5,"md":1.17e6,"q3":1.43e6,"hi":2.1e6},
{"y":2023,"i":"0%","e":"1 week","lo":5.0e5,"q1":8.0e5,"md":1.03e6,"q3":1.34e6,"hi":1.77e6},
{"y":2023,"i":"0%","e":"2 weeks","lo":5.0e5,"q1":8.0e5,"md":1.03e6,"q3":1.26e6,"hi":1.81e6},
{"y":2023,"i":"0%","e":"3 weeks","lo":5.0e5,"q1":8.8e5,"md":1.07e6,"q3":1.3e6,"hi":1.93e6},
{"y":2023,"i":"0%","e":"4 weeks","lo":5.0e5,"q1":8.4e5,"md":1.07e6,"q3":1.3e6,"hi":1.7e6},
{"y":2023,"i":"0%","e":"0 weeks","v":2.23e6},
{"y":2023,"i":"0%","e":"2 weeks","v":2.21e6},
{"y":2023,"i":"0%","e":"3 weeks","v":2.42e6},
{"y":2023,"i":"0%","e":"4 weeks","v":2.38e6},
{"y":2023,"i":"0%","e":"4 weeks","v":2.31e6},
{"y":2023,"i":"0%","e":"4 weeks","v":2.23e6},
{"y":2023,"i":"0%","e":"4 weeks","v":1.98e6},
{"y":2023,"i":"0%","e":"4 weeks","v":1.89e6},
{"y":2023,"i":"0%","e":"4 weeks","v":1.79e6},
{"y":2023,"i":"33%","e":"0 weeks","lo":4.8e5,"q1":1.0e6,"md":1.28e6,"q3":1.62e6,"hi":2.2e6},
{"y":2023,"i":"33%","e":"1 week","lo":5.0e5,"q1":8.0e5,"md":1.05e6,"q3":1.34e6,"hi":1.95e6},
{"y":2023,"i":"33%","e":"2 weeks","lo":4.8e5,"q1":8.0e5,"md":1.05e6,"q3":1.17e6,"hi":1.7e6},
{"y":2023,"i":"33%","e":"3 weeks","lo":4.8e5,"q1":8.2e5,"md":1.05e6,"q3":1.18e6,"hi":1.72e6},
{"y":2023,"i":"33%","e":"4 weeks","lo":4.8e5,"q1":8.0e5,"md":1.0e6,"q3":1.13e6,"hi":1.65e6},
{"y":2023,"i":"33%","e":"1 week","v":2.29e6},
{"y":2023,"i":"33%","e":"2 weeks","v":2.36e6},
{"y":2023,"i":"33%","e":"2 weeks","v":1.82e6},
{"y":2023,"i":"33%","e":"4 weeks","v":2.33e6},
{"y":2023,"i":"33%","e":"4 weeks","v":1.77e6},
{"y":2023,"i":"66%","e":"0 weeks","lo":5.0e5,"q1":9.0e5,"md":1.13e6,"q3":1.51e6,"hi":2.2e6},
{"y":2023,"i":"66%","e":"1 week","lo":4.8e5,"q1":7.1e5,"md":9.0e5,"q3":1.22e6,"hi":1.85e6},
{"y":2023,"i":"66%","e":"2 weeks","lo":4.8e5,"q1":7.5e5,"md":9.6e5,"q3":1.17e6,"hi":1.75e6},
{"y":2023,"i":"66%","e":"3 weeks","lo":4.6e5,"q1":7.1e5,"md":8.8e5,"q3":1.13e6,"hi":1.6e6},
{"y":2023,"i":"66%","e":"4 weeks","lo":4.5e5,"q1":7.0e5,"md":8.6e5,"q3":1.12e6,"hi":1.55e6},
{"y":2023,"i":"66%","e":"1 week","v":2.15e6},
{"y":2023,"i":"66%","e":"1 week","v":2.08e6},
{"y":2023,"i":"66%","e":"2 weeks","v":2.04e6},
{"y":2023,"i":"66%","e":"2 weeks","v":1.99e6},
{"y":2023,"i":"66%","e":"2 weeks","v":1.97e6},
{"y":2023,"i":"66%","e":"2 weeks","v":1.96e6},
{"y":2023,"i":"66%","e":"3 weeks","v":2.36e6},
{"y":2023,"i":"66%","e":"4 weeks","v":1.99e6},
{"y":2023,"i":"100%","e":"0 weeks","lo":5.0e5,"q1":9.6e5,"md":1.15e6,"q3":1.39e6,"hi":2.05e6},
{"y":2023,"i":"100%","e":"1 week","lo":4.8e5,"q1":7.5e5,"md":9.5e5,"q3":1.26e6,"hi":1.8e6},
{"y":2023,"i":"100%","e":"2 weeks","lo":5.2e5,"q1":8.8e5,"md":1.03e6,"q3":1.13e6,"hi":1.45e6},
{"y":2023,"i":"100%","e":"3 weeks","lo":5.0e5,"q1":8.0e5,"md":9.6e5,"q3":1.13e6,"hi":1.55e6},
{"y":2023,"i":"100%","e":"4 weeks","lo":5.0e5,"q1":8.2e5,"md":9.5e5,"q3":1.1e6,"hi":1.5e6},
{"y":2023,"i":"100%","e":"0 weeks","v":2.15e6},
{"y":2023,"i":"100%","e":"1 week","v":2.44e6},
{"y":2023,"i":"100%","e":"2 weeks","v":1.6e6},
{"y":2023,"i":"100%","e":"4 weeks","v":2.27e6},
{"y":2023,"i":"100%","e":"4 weeks","v":2.19e6},
{"y":2023,"i":"100%","e":"4 weeks","v":1.6e6},
{"y":2023,"i":"100%","e":"4 weeks","v":1.56e6},
{"y":2024,"i":"100%","e":"0 weeks","lo":4.8e5,"q1":1.0e6,"md":1.34e6,"q3":1.64e6,"hi":2.33e6},
{"y":2024,"i":"100%","e":"1 week","lo":5.0e5,"q1":8.0e5,"md":1.05e6,"q3":1.3e6,"hi":1.89e6},
{"y":2024,"i":"100%","e":"2 weeks","lo":4.8e5,"q1":7.5e5,"md":1.0e6,"q3":1.26e6,"hi":1.8e6},
{"y":2024,"i":"100%","e":"3 weeks","lo":5.0e5,"q1":8.0e5,"md":1.0e6,"q3":1.22e6,"hi":1.75e6},
{"y":2024,"i":"100%","e":"4 weeks","lo":5.2e5,"q1":8.0e5,"md":1.0e6,"q3":1.24e6,"hi":1.8e6},
{"y":2024,"i":"100%","e":"1 week","v":2.23e6},
{"y":2024,"i":"100%","e":"1 week","v":2.16e6},
{"y":2024,"i":"100%","e":"1 week","v":2.06e6},
{"y":2024,"i":"100%","e":"2 weeks","v":2.0e6},
{"y":2024,"i":"100%","e":"2 weeks","v":1.95e6},
{"y":2024,"i":"100%","e":"3 weeks","v":2.36e6},
{"y":2024,"i":"100%","e":"3 weeks","v":2.27e6},
{"y":2024,"i":"100%","e":"3 weeks","v":1.93e6},
{"y":2024,"i":"100%","e":"4 weeks","v":2.5e6},
{"y":2024,"i":"100%","e":"4 weeks","v":2.33e6},
{"y":2024,"i":"100%","e":"4 weeks","v":2.3e6},
{"y":2024,"i":"100%","e":"4 weeks","v":2.02e6}
]
},
"hconcat":[
{"vconcat":[
 {"vconcat":[
  {
   "title":{"text":"Reps shown separately","subtitle":"secondary peak excluded"},
   "data":{"name":"L"},
   "facet":{"field":"y","type":"ordinal","header":{"title":null}},
   "columns":2,
   "spacing":{"column":6,"row":11},
   "resolve":{"scale":{"xOffset":"independent"}},
   "spec":{
    "width":99,"height":90,
    "transform":[{"calculate":"substring(datum.g,1)","as":"r"}],
    "encoding":{
     "x":{"field":"i","type":"nominal","sort":["0%","33%","66%","100%"],"scale":{"domain":["0%","33%","66%","100%"],"paddingInner":0,"paddingOuter":0.1},"axis":{"title":null,"labelAngle":0,"labelPadding":0}},
     "xOffset":{"field":"g","type":"nominal","scale":{"paddingInner":0,"paddingOuter":0.7}}
    },
    "layer":[
     {"transform":[{"filter":"isValid(datum.md)"}],"mark":{"type":"rule","strokeWidth":0.7},
      "encoding":{"y":{"field":"lo","type":"quantitative","scale":{"domain":[340000,2600000],"nice":false,"zero":false},"axis":{"title":null,"labelOverlap":false,"tickCount":5,"labelExpr":"replace(format(datum.value,'.1e'),'e+','e+0')"}},"y2":{"field":"hi"},
       "stroke":{"field":"r","type":"nominal","scale":{"domain":["a","b","c"],"range":["#262626","#4D4D4D","#8C8C8C"]},"legend":null}}},
     {"transform":[{"filter":"isValid(datum.md)"}],"mark":{"type":"bar","strokeWidth":0.8},
      "encoding":{"y":{"field":"q1","type":"quantitative","title":null},"y2":{"field":"q3"},
       "stroke":{"field":"r","type":"nominal","legend":null},
       "fill":{"field":"e","type":"nominal","scale":{"domain":["0 weeks","1 week","2 weeks","3 weeks","4 weeks"],"range":["#FEE5D9","#FCAE91","#FB6A4A","#DE2D26","#A50F15"]},"legend":{"title":"exposure"}}}},
     {"transform":[{"filter":"isValid(datum.md)"}],"mark":{"type":"bar","stroke":"#1A1A1A","strokeWidth":1.1},
      "encoding":{"y":{"field":"md","type":"quantitative","title":null},"y2":{"field":"md"}}},
     {"transform":[{"filter":"isValid(datum.v)"}],"mark":{"type":"circle","size":18,"color":"#333333","opacity":1},
      "encoding":{"y":{"field":"v","type":"quantitative","title":null}}}
    ]
   }
  }],
  "title":{"text":"suture stress (Pa)","orient":"left","anchor":"middle","frame":"bounds","fontSize":12.5,"fontWeight":"normal","offset":5,"dx":-22}
 }],
 "title":{"text":"irrigation","orient":"bottom","anchor":"middle","frame":"bounds","fontSize":12.5,"fontWeight":"normal","offset":3,"dx":29}
},
{"vconcat":[
 {"vconcat":[
  {
   "title":{"text":"Combined data across reps","subtitle":"secondary peak excluded"},
   "data":{"name":"R"},
   "facet":{"field":"y","type":"ordinal","header":{"title":null}},
   "columns":2,
   "spacing":{"column":6,"row":11},
   "spec":{
    "width":99,"height":90,
    "encoding":{
     "x":{"field":"i","type":"nominal","sort":["0%","33%","66%","100%"],"scale":{"domain":["0%","33%","66%","100%"],"paddingInner":0,"paddingOuter":0.1},"axis":{"title":null,"labelAngle":0,"labelPadding":0}},
     "xOffset":{"field":"e","type":"nominal","sort":["0 weeks","1 week","2 weeks","3 weeks","4 weeks"],"scale":{"paddingInner":0.1,"paddingOuter":0.33}}
    },
    "layer":[
     {"transform":[{"filter":"isValid(datum.md)"}],"mark":{"type":"rule","color":"#8C8C8C","strokeWidth":0.7},
      "encoding":{"y":{"field":"lo","type":"quantitative","scale":{"domain":[340000,2600000],"nice":false,"zero":false},"axis":{"title":null,"labelOverlap":false,"tickCount":5,"labelExpr":"replace(format(datum.value,'.1e'),'e+','e+0')"}},"y2":{"field":"hi"}}},
     {"transform":[{"filter":"isValid(datum.md)"}],"mark":{"type":"bar","stroke":"#666666","strokeWidth":0.5},
      "encoding":{"y":{"field":"q1","type":"quantitative","title":null},"y2":{"field":"q3"},
       "fill":{"field":"e","type":"nominal","scale":{"domain":["0 weeks","1 week","2 weeks","3 weeks","4 weeks"],"range":["#FEE5D9","#FCAE91","#FB6A4A","#DE2D26","#A50F15"]},"legend":{"title":"exposure"}}}},
     {"transform":[{"filter":"isValid(datum.md)"}],"mark":{"type":"bar","stroke":"#1A1A1A","strokeWidth":1.1},
      "encoding":{"y":{"field":"md","type":"quantitative","title":null},"y2":{"field":"md"}}},
     {"transform":[{"filter":"isValid(datum.v)"}],"mark":{"type":"circle","size":18,"color":"#333333","opacity":1},
      "encoding":{"y":{"field":"v","type":"quantitative","title":null}}}
    ]
   }
  }],
  "title":{"text":"suture stress (Pa)","orient":"left","anchor":"middle","frame":"bounds","fontSize":12.5,"fontWeight":"normal","offset":5,"dx":-22}
 }],
 "title":{"text":"irrigation","orient":"bottom","anchor":"middle","frame":"bounds","fontSize":12.5,"fontWeight":"normal","offset":3,"dx":30}
}
]
}
